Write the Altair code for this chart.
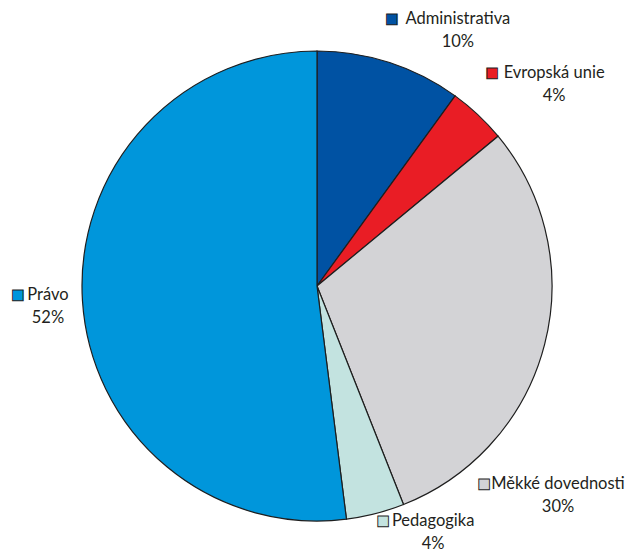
import math
import altair as alt
import pandas as pd

# --- data ---
categories = ["Administrativa", "Evropská unie", "Měkké dovednosti", "Pedagogika", "Právo"]
shares = [10, 4, 30, 4, 52]
colors = ["#0052a3", "#e91d25", "#d3d3d6", "#c3e3e0", "#0096db"]

# --- layout (label anchors in polar form: degrees clockwise from 12 o'clock, px from centre) ---
label_angle = [27.8, 48.1, 129.4, 153.7, 268.1]
label_radius = [302.0, 318.6, 311.9, 262.1, 269.2]
CX, CY, R = 309, 278, 235
CHAR_W = 8.0
FONT = "Lato"
FS = 16.5
TXT = "#231f20"

ax = [r * math.sin(math.radians(a)) for a, r in zip(label_angle, label_radius)]
ay = [-r * math.cos(math.radians(a)) for a, r in zip(label_angle, label_radius)]
sx = [x - len(c) * CHAR_W / 2 - 10 for x, c in zip(ax, categories)]
sq_angle = [math.degrees(math.atan2(x, -y)) % 360 for x, y in zip(sx, ay)]
sq_radius = [math.hypot(x, y) for x, y in zip(sx, ay)]

df = pd.DataFrame({
    "cat": categories,
    "share": shares,
    "order": list(range(len(categories))),
    "pct": [f"{v}%" for v in shares],
    "la": label_angle,
    "lr": label_radius,
    "sa": sq_angle,
    "sr": sq_radius,
})

color = alt.Color("cat:N", scale=alt.Scale(domain=categories, range=colors), legend=None)
deg_scale = alt.Scale(domain=[0, 360], range=[0, 2 * math.pi])

pie = alt.Chart(df).mark_arc(outerRadius=R, stroke="#1e1e1e", strokeWidth=1.2).encode(
    theta=alt.Theta("share:Q", stack=True),
    color=color,
    order=alt.Order("order:Q"),
    x=alt.value(CX),
    y=alt.value(CY),
)

names = alt.Chart(df).mark_text(font=FONT, fontSize=FS, color=TXT, align="center", baseline="middle").encode(
    theta=alt.Theta("la:Q", stack=False, scale=deg_scale),
    radius=alt.Radius("lr:Q", scale=None),
    text="cat:N",
    x=alt.value(CX),
    y=alt.value(CY),
)

pcts = alt.Chart(df).mark_text(font=FONT, fontSize=FS, color=TXT, align="center", baseline="middle", dy=23).encode(
    theta=alt.Theta("la:Q", stack=False, scale=deg_scale),
    radius=alt.Radius("lr:Q", scale=None),
    text="pct:N",
    x=alt.value(CX),
    y=alt.value(CY),
)

squares = alt.Chart(df).mark_text(font="DejaVu Sans", fontSize=14, stroke="#1e1e1e", strokeWidth=0.9,
                                  align="center", baseline="middle", text="■").encode(
    theta=alt.Theta("sa:Q", stack=False, scale=deg_scale),
    radius=alt.Radius("sr:Q", scale=None),
    color=color,
    x=alt.value(CX),
    y=alt.value(CY),
)

chart = alt.layer(pie, names, pcts, squares).resolve_scale(
    theta="independent", radius="independent"
).properties(
    width=621, height=544, autosize=alt.AutoSizeParams(type="none"), padding=0, background="white"
).configure_view(stroke=None)

chart.save("out.html", embed_options={"renderer": "svg", "actions": False})
